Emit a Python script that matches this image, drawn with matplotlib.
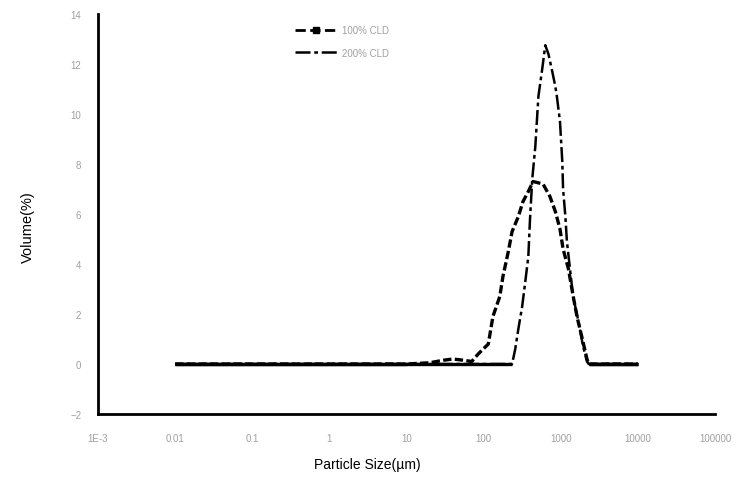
import matplotlib
matplotlib.use("Agg")
import matplotlib.pyplot as plt
from matplotlib.lines import Line2D
from matplotlib.ticker import FixedLocator, FixedFormatter

plt.rcParams['font.family'] = ['Liberation Sans', 'DejaVu Sans']

# particle size (um) and volume (%)
size_100 = [0.01, 0.1, 1, 10, 20, 30, 40, 55, 70, 85, 115, 132, 162, 178, 209, 234,
            282, 324, 380, 437, 589, 724, 851, 977, 1072, 1259, 1413, 1622, 1905, 2188, 2300, 10000]
vol_100 = [0, 0, 0, 0, 0.05, 0.15, 0.2, 0.15, 0.1, 0.4, 0.8, 1.9, 2.7, 3.5, 4.5, 5.3,
           5.9, 6.5, 6.9, 7.3, 7.2, 6.7, 6.1, 5.4, 4.6, 3.8, 2.9, 1.9, 1.0, 0.2, 0, 0]

size_200 = [0.01, 10, 100, 234, 257, 282, 316, 347, 380, 398, 427, 468, 513, 575, 630,
            692, 776, 851, 891, 977, 1047, 1072, 1148, 1202, 1318, 1445, 1698, 1950, 2188, 2300, 10000]
vol_200 = [0, 0, 0, 0, 0.6, 1.4, 2.3, 3.3, 4.3, 5.7, 7.4, 8.7, 10.7, 11.8, 12.75,
           12.4, 11.7, 11.1, 10.7, 9.7, 8.1, 7.0, 5.9, 4.9, 3.8, 2.7, 1.7, 0.7, 0.1, 0, 0]

x_ticks = [1e-3, 1e-2, 1e-1, 1, 10, 100, 1000, 10000, 100000]
x_ticklabels = ['1E-3', '0.01', '0.1', '1', '10', '100', '1000', '10000', '100000']
y_ticks = [-2, 0, 2, 4, 6, 8, 10, 12, 14]


def zero_runs(x, y):
    # leading / trailing stretches where the volume is 0 (drawn as a solid baseline)
    nz = [i for i, v in enumerate(y) if v != 0]
    first, last = nz[0], nz[-1]
    return [(x[:first], y[:first]), (x[last + 1:], y[last + 1:])]


fig = plt.figure(figsize=(7.44, 4.81), dpi=100)
ax = fig.add_axes([98 / 744, 1 - 415 / 481, (715 - 98) / 744, 400 / 481])

ax.plot(size_100, vol_100, color='black', lw=2.4, linestyle=(0, (2.5, 1)))
ax.plot(size_200, vol_200, color='black', lw=1.8, linestyle=(0, (6, 1.5, 1.5, 1.5)))
for xs, ys in zero_runs(size_100, vol_100) + zero_runs(size_200, vol_200):
    ax.plot(xs, ys, color='black', lw=2.4, solid_capstyle='butt')

ax.set_xscale('log')
ax.set_xlim(1e-3, 1e5)
ax.set_ylim(-2, 14)
ax.xaxis.set_major_locator(FixedLocator(x_ticks))
ax.xaxis.set_major_formatter(FixedFormatter(x_ticklabels))
ax.xaxis.set_minor_locator(FixedLocator([]))
ax.set_yticks(y_ticks)

for s in ['top', 'right']:
    ax.spines[s].set_visible(False)
for s in ['left', 'bottom']:
    ax.spines[s].set_linewidth(2)
ax.tick_params(length=0, labelsize=7, colors='#a0a0a0')
ax.tick_params(axis='x', pad=14)
ax.tick_params(axis='y', pad=12)

fig.text(367 / 744, 1 - 465 / 481, 'Particle Size(\u00b5m)', ha='center', va='center', fontsize=10)
fig.text(28 / 744, 1 - 227 / 481, 'Volume(%)', ha='center', va='center', fontsize=10.5, rotation=90)

handles = [Line2D([], [], color='black', lw=2, linestyle='--', marker='s', markersize=4),
           Line2D([], [], color='black', lw=1.8, linestyle=(0, (6, 1.5, 1.5, 1.5)))]
leg = ax.legend(handles, ['100% CLD', '200% CLD'], loc='upper left',
                bbox_to_anchor=(295 / 744, 1 - 26 / 481),
                bbox_transform=fig.transFigure, frameon=False, fontsize=7,
                handlelength=4.4, handletextpad=0.4, labelspacing=1.3,
                borderpad=0, borderaxespad=0, numpoints=1)
for t in leg.get_texts():
    t.set_color('#a0a0a0')

fig.savefig('out.png', dpi=100)
